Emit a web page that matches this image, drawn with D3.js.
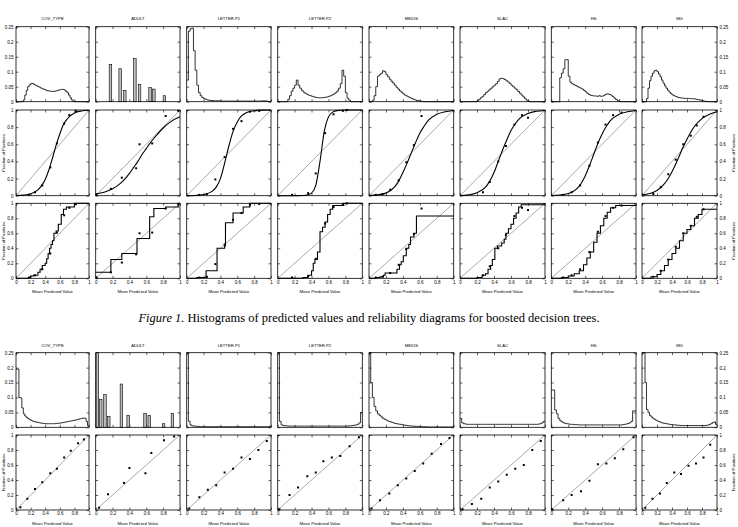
<!DOCTYPE html>
<html>
<head>
<meta charset="utf-8">
<script src="https://cdn.jsdelivr.net/npm/d3@7"></script>
<style>
  body { margin: 0; background: #fff; }
  text { font-family: "Liberation Sans", Arial, sans-serif; }
</style>
</head>
<body>
<svg id="fig" width="738" height="527"></svg>
<script>
const datasets = ["COV_TYPE", "ADULT", "LETTER.P1", "LETTER.P2", "MEDIS", "SLAC", "HS", "MG"];
const binWidth = 0.02;
const xTicks = [0, 0.2, 0.4, 0.6, 0.8, 1];
const histTicks = [0, 0.05, 0.1, 0.15, 0.2, 0.25];
const relTicks = [0, 0.2, 0.4, 0.6, 0.8, 1];

// histograms of raw boosted-tree predictions (50 bins of 0.02)
const histTopCov = [0,0,0,0,0,0.006,0.022,0.038,0.05,0.056,0.06,0.061,0.058,0.055,0.053,0.05,0.048,0.045,0.043,0.041,0.039,0.037,0.036,0.035,0.035,0.034,0.035,0.036,0.037,0.039,0.04,0.041,0.041,0.039,0.035,0.03,0.022,0.013,0.006,0.002,0,0,0,0,0,0,0,0,0,0];
const histTopP1 = [0.072,0.235,0.243,0.245,0.17,0.105,0.055,0.03,0.02,0.014,0.01,0.008,0.006,0.005,0.004,0.004,0.003,0.003,0.003,0.003,0.002,0.002,0.002,0.002,0.002,0.002,0.002,0.002,0.002,0.002,0.002,0.002,0.002,0.002,0.002,0.002,0.002,0.002,0.002,0.002,0.002,0.002,0.002,0.002,0.002,0.003,0.003,0.002,0.001,0];
const histTopP2 = [0,0,0,0,0,0,0.008,0.02,0.035,0.045,0.055,0.072,0.055,0.045,0.038,0.032,0.028,0.025,0.022,0.02,0.018,0.016,0.015,0.014,0.013,0.013,0.013,0.014,0.015,0.016,0.018,0.02,0.023,0.026,0.03,0.036,0.045,0.06,0.105,0.085,0.03,0.012,0.005,0,0,0,0,0,0,0];
const histTopMedis = [0,0,0.005,0.02,0.05,0.085,0.09,0.095,0.103,0.1,0.09,0.083,0.075,0.068,0.062,0.055,0.048,0.042,0.036,0.031,0.026,0.022,0.019,0.016,0.013,0.01,0.008,0.006,0.004,0.003,0.002,0.001,0,0,0,0,0,0,0,0,0,0,0,0,0,0,0,0,0,0];
const histTopSlac = [0,0,0,0,0,0,0,0,0,0,0.003,0.008,0.013,0.018,0.024,0.03,0.035,0.04,0.045,0.05,0.055,0.06,0.068,0.076,0.078,0.077,0.074,0.07,0.066,0.061,0.055,0.05,0.045,0.04,0.034,0.028,0.022,0.016,0.01,0.005,0.002,0,0,0,0,0,0,0,0,0];
const histTopHs = [0,0,0,0,0,0.08,0.095,0.11,0.14,0.14,0.085,0.065,0.06,0.057,0.054,0.051,0.048,0.045,0.042,0.038,0.033,0.028,0.024,0.021,0.02,0.019,0.019,0.018,0.02,0.018,0.019,0.022,0.025,0.026,0.024,0.022,0.017,0.012,0.007,0.003,0.001,0,0,0,0,0,0,0,0,0];
const histTopMg = [0,0,0,0.01,0.045,0.07,0.085,0.095,0.103,0.105,0.1,0.092,0.083,0.072,0.062,0.053,0.045,0.038,0.032,0.027,0.023,0.02,0.018,0.016,0.014,0.013,0.012,0.012,0.011,0.011,0.011,0.011,0.01,0.01,0.01,0.009,0.008,0.007,0.006,0.005,0.003,0.002,0.001,0,0,0,0,0,0,0];
// ADULT has only a few distinct scores: drawn as separate bars
const adultTopX = [0.175, 0.29, 0.345, 0.465, 0.52, 0.645, 0.69, 0.815];
const adultTopH = [0.124, 0.11, 0.037, 0.144, 0.058, 0.047, 0.042, 0.02];

// histograms after Platt calibration
const histBotCov = [0.195,0.195,0.1,0.098,0.065,0.045,0.038,0.033,0.029,0.026,0.023,0.021,0.019,0.018,0.017,0.016,0.015,0.014,0.013,0.013,0.012,0.012,0.012,0.012,0.012,0.012,0.012,0.013,0.013,0.014,0.014,0.015,0.016,0.017,0.018,0.019,0.02,0.021,0.022,0.023,0.024,0.025,0.026,0.028,0.029,0.03,0.031,0.03,0.02,0.005];
const histBotP1 = [0.6,0.02,0.008,0.005,0.004,0.004,0.003,0.003,0.002,0.002,0.002,0.002,0.002,0.002,0.002,0.002,0.002,0.002,0.002,0.002,0.002,0.002,0.002,0.002,0.002,0.002,0.002,0.002,0.002,0.002,0.002,0.002,0.002,0.002,0.002,0.002,0.002,0.002,0.002,0.002,0.002,0.002,0.002,0.002,0.002,0.002,0.002,0.002,0.002,0.003];
const histBotP2 = [0.3,0.02,0.008,0.006,0.005,0.005,0.004,0.004,0.004,0.004,0.004,0.004,0.004,0.004,0.004,0.004,0.004,0.004,0.004,0.004,0.004,0.004,0.004,0.004,0.004,0.004,0.004,0.004,0.004,0.004,0.004,0.004,0.004,0.004,0.004,0.004,0.004,0.004,0.004,0.004,0.004,0.004,0.005,0.005,0.006,0.007,0.008,0.01,0.015,0.05];
const histBotMedis = [0.4,0.15,0.1,0.07,0.055,0.045,0.04,0.035,0.03,0.027,0.024,0.021,0.019,0.017,0.015,0.013,0.012,0.011,0.01,0.009,0.008,0.007,0.006,0.005,0.005,0.004,0.004,0.003,0.003,0.003,0.002,0.002,0.002,0.002,0.001,0.001,0.001,0.001,0.001,0.001,0.001,0.001,0.001,0.001,0.001,0.001,0.001,0.001,0.001,0.001];
const histBotSlac = [0.03,0.015,0.012,0.011,0.01,0.01,0.01,0.01,0.01,0.01,0.01,0.01,0.01,0.01,0.01,0.01,0.01,0.01,0.01,0.01,0.01,0.01,0.01,0.01,0.01,0.01,0.01,0.01,0.01,0.01,0.01,0.01,0.01,0.01,0.01,0.01,0.01,0.01,0.01,0.01,0.01,0.01,0.01,0.01,0.01,0.01,0.011,0.012,0.015,0.02];
const histBotHs = [0.125,0.125,0.058,0.045,0.03,0.022,0.018,0.015,0.013,0.012,0.011,0.01,0.01,0.009,0.009,0.009,0.008,0.008,0.008,0.008,0.008,0.008,0.008,0.008,0.008,0.008,0.008,0.008,0.008,0.008,0.008,0.008,0.008,0.008,0.008,0.008,0.008,0.008,0.008,0.008,0.008,0.008,0.009,0.01,0.011,0.013,0.015,0.02,0.055,0.055];
const histBotMg = [0.3,0.3,0.15,0.06,0.05,0.04,0.035,0.03,0.027,0.024,0.021,0.019,0.017,0.015,0.014,0.013,0.012,0.011,0.01,0.009,0.009,0.008,0.008,0.007,0.007,0.006,0.006,0.006,0.006,0.006,0.006,0.006,0.006,0.006,0.006,0.006,0.006,0.006,0.006,0.006,0.006,0.006,0.006,0.007,0.008,0.01,0.013,0.016,0.018,0.01];
const adultBotX = [0.02, 0.06, 0.11, 0.155, 0.305, 0.385, 0.585, 0.635, 0.805, 0.91];
const adultBotH = [0.3, 0.094, 0.11, 0.037, 0.145, 0.04, 0.047, 0.04, 0.012, 0.047];

// reliability points of the boosted trees (same in both rows)
const ptsTopX = [
  [0.18,0.26,0.36,0.47,0.56,0.66,0.73,0.82],
  [0.01,0.18,0.31,0.48,0.52,0.67,0.83,0.98],
  [0.15,0.24,0.34,0.45,0.55,0.65,0.75,0.86],
  [0.17,0.36,0.45,0.56,0.66,0.77,0.82],
  [0.08,0.16,0.25,0.35,0.44,0.53,0.62],
  [0.27,0.35,0.45,0.54,0.64,0.73,0.80],
  [0.14,0.24,0.34,0.45,0.55,0.64,0.73,0.83],
  [0.15,0.25,0.35,0.45,0.55,0.65,0.73,0.82]
];
const ptsTopY = [
  [0.01,0.04,0.12,0.33,0.61,0.84,0.94,0.99],
  [0.01,0.08,0.21,0.32,0.60,0.61,0.93,0.99],
  [0.01,0.02,0.19,0.45,0.78,0.87,0.98,0.99],
  [0.01,0.03,0.26,0.73,0.95,0.99,1.0],
  [0.01,0.02,0.07,0.18,0.39,0.59,0.93],
  [0.04,0.16,0.40,0.58,0.83,0.94,0.91],
  [0.01,0.04,0.12,0.35,0.62,0.83,0.94,0.97],
  [0.02,0.10,0.25,0.42,0.60,0.70,0.82,0.92]
];

// fitted sigmoid, read at these x positions
const fitX = [0, 0.1, 0.2, 0.3, 0.35, 0.4, 0.45, 0.5, 0.55, 0.6, 0.65, 0.7, 0.8, 0.9, 1];
const fitY = [
  [0.002,0.007,0.022,0.068,0.117,0.19,0.30,0.44,0.59,0.72,0.83,0.895,0.965,0.989,0.997],
  [0.02,0.04,0.08,0.15,0.20,0.26,0.33,0.40,0.48,0.55,0.62,0.68,0.79,0.87,0.92],
  [0,0.003,0.013,0.05,0.10,0.20,0.38,0.58,0.75,0.86,0.93,0.965,0.99,0.998,1],
  [0,0,0.001,0.003,0.009,0.03,0.12,0.40,0.75,0.92,0.975,0.993,1,1,1],
  [0.003,0.01,0.03,0.10,0.17,0.27,0.38,0.50,0.62,0.73,0.81,0.88,0.95,0.98,0.995],
  [0.002,0.01,0.035,0.10,0.17,0.27,0.40,0.53,0.65,0.76,0.84,0.90,0.96,0.985,0.995],
  [0.002,0.008,0.025,0.08,0.14,0.23,0.35,0.48,0.61,0.72,0.81,0.88,0.95,0.98,0.995],
  [0.01,0.025,0.06,0.14,0.20,0.28,0.37,0.47,0.57,0.66,0.74,0.81,0.90,0.95,0.98]
];

// isotonic regression steps: level y starts at x
const stepX = [
  [0,0.17,0.2,0.24,0.3,0.33,0.36,0.4,0.42,0.44,0.46,0.48,0.5,0.52,0.55,0.58,0.62,0.65,0.69,0.8],
  [0,0.18,0.31,0.49,0.64,0.69,0.83,0.98],
  [0,0.12,0.23,0.36,0.45,0.46,0.55,0.67,0.75],
  [0,0.30,0.36,0.40,0.42,0.44,0.47,0.50,0.53,0.56,0.59,0.62,0.65,0.78],
  [0,0.08,0.13,0.17,0.19,0.33,0.36,0.38,0.405,0.44,0.47,0.49,0.53,0.56],
  [0,0.2,0.26,0.3,0.33,0.36,0.38,0.41,0.44,0.49,0.52,0.54,0.57,0.6,0.63,0.66,0.69,0.72],
  [0,0.12,0.2,0.27,0.33,0.38,0.42,0.46,0.5,0.54,0.58,0.62,0.66,0.7,0.76],
  [0,0.12,0.2,0.25,0.3,0.35,0.4,0.45,0.5,0.55,0.6,0.65,0.7,0.75,0.8]
];
const stepY = [
  [0,0.01,0.03,0.04,0.08,0.12,0.17,0.2,0.26,0.33,0.4,0.45,0.5,0.6,0.63,0.72,0.85,0.92,0.95,1.0],
  [0.08,0.25,0.33,0.53,0.82,0.93,0.95,1.0],
  [0,0.01,0.1,0.4,0.43,0.74,0.87,0.95,1.0],
  [0,0.01,0.04,0.1,0.2,0.25,0.35,0.62,0.68,0.75,0.85,0.92,0.97,1.0],
  [0,0.01,0.02,0.04,0.07,0.12,0.18,0.22,0.3,0.4,0.45,0.55,0.6,0.83],
  [0,0.01,0.04,0.06,0.12,0.17,0.25,0.4,0.43,0.47,0.52,0.6,0.66,0.72,0.8,0.87,0.95,0.98],
  [0,0.01,0.03,0.06,0.1,0.18,0.27,0.35,0.48,0.6,0.7,0.8,0.88,0.94,0.97],
  [0,0.02,0.05,0.1,0.17,0.25,0.33,0.4,0.5,0.6,0.65,0.7,0.8,0.85,0.92]
];

// reliability points after calibration
const ptsBotX = [
  [0.06,0.155,0.26,0.36,0.47,0.56,0.66,0.75,0.85,0.93],
  [0.04,0.146,0.336,0.40,0.59,0.66,0.81,0.93],
  [0.03,0.15,0.25,0.35,0.45,0.55,0.65,0.75,0.85,0.95],
  [0.02,0.14,0.24,0.35,0.45,0.54,0.64,0.74,0.85,0.96],
  [0.03,0.13,0.24,0.34,0.44,0.54,0.64,0.74,0.85,0.95],
  [0.03,0.14,0.25,0.35,0.45,0.55,0.65,0.75,0.85,0.95],
  [0.01,0.14,0.24,0.35,0.45,0.55,0.65,0.75,0.85,0.97],
  [0.044,0.14,0.24,0.33,0.43,0.52,0.62,0.72,0.82,0.91]
];
const ptsBotY = [
  [0.036,0.15,0.28,0.37,0.49,0.55,0.70,0.79,0.89,0.94],
  [0.03,0.21,0.36,0.56,0.49,0.76,0.93,0.98],
  [0.02,0.17,0.27,0.33,0.50,0.55,0.70,0.68,0.80,0.92],
  [0.01,0.20,0.30,0.45,0.50,0.65,0.70,0.72,0.85,0.97],
  [0.02,0.13,0.22,0.33,0.42,0.52,0.62,0.75,0.88,0.96],
  [0.01,0.08,0.15,0.30,0.38,0.47,0.55,0.60,0.80,0.92],
  [0.01,0.13,0.20,0.25,0.39,0.61,0.62,0.69,0.81,0.97],
  [0.03,0.15,0.22,0.36,0.50,0.48,0.59,0.62,0.70,0.87]
];

const histTop = [histTopCov, null, histTopP1, histTopP2, histTopMedis, histTopSlac, histTopHs, histTopMg];
const histBot = [histBotCov, null, histBotP1, histBotP2, histBotMedis, histBotSlac, histBotHs, histBotMg];

// layout
const colLeft  = [16, 95.7, 186.7, 277.7, 369, 460, 551.3, 642];
const colRight = [89, 180, 271, 362.3, 453.7, 545, 636, 717];
const topHist = [26.7, 101.7], topFit = [110, 195.7], topIso = [203.3, 278.3];
const botHist = [352.7, 427.3], botRel = [435, 510];
const tickLen = 2.5;

const svg = d3.select("#fig");

function styleAxis(sel) {
  sel.attr("font-size", 4.5).attr("font-family", null);
  sel.select(".domain").remove();
  sel.selectAll("line").attr("stroke-width", 0.6);
}

function makePanel(c, rows, yDomain, yTicks, xLabels) {
  const x = d3.scaleLinear().domain([0, 1]).range([colLeft[c], colRight[c]]);
  const y = d3.scaleLinear().domain(yDomain).range([rows[1], rows[0]]).clamp(true);
  const g = svg.append("g");
  const fmt = d => String(d);

  g.append("g").attr("transform", `translate(0,${rows[1]})`)
    .call(d3.axisBottom(x).tickValues(xTicks).tickSizeInner(-tickLen).tickSizeOuter(0)
      .tickPadding(2.2).tickFormat(xLabels ? fmt : ""))
    .call(styleAxis);
  g.append("g").attr("transform", `translate(0,${rows[0]})`)
    .call(d3.axisTop(x).tickValues(xTicks).tickSizeInner(-tickLen).tickSizeOuter(0).tickFormat(""))
    .call(styleAxis);
  g.append("g").attr("transform", `translate(${colLeft[c]},0)`)
    .call(d3.axisLeft(y).tickValues(yTicks).tickSizeInner(-tickLen).tickSizeOuter(0)
      .tickPadding(2.5).tickFormat(c === 0 ? fmt : ""))
    .call(styleAxis);
  g.append("g").attr("transform", `translate(${colRight[c]},0)`)
    .call(d3.axisRight(y).tickValues(yTicks).tickSizeInner(-tickLen).tickSizeOuter(0)
      .tickPadding(2.5).tickFormat(c === 7 ? fmt : ""))
    .call(styleAxis);

  const plot = g.append("g");
  g.append("rect")
    .attr("x", colLeft[c]).attr("y", rows[0])
    .attr("width", colRight[c] - colLeft[c]).attr("height", rows[1] - rows[0])
    .attr("fill", "none").attr("stroke", "#000").attr("stroke-width", 0.8);
  return {x, y, plot};
}

function drawHist(p, bins) {
  const pts = bins.map((v, i) => [i * binWidth, v]);
  pts.push([1, bins[bins.length - 1]]);
  p.plot.append("path")
    .attr("d", d3.line().x(d => p.x(d[0])).y(d => p.y(d[1])).curve(d3.curveStepAfter)(pts))
    .attr("fill", "none").attr("stroke", "#000").attr("stroke-width", 0.8);
}

function drawBars(p, xs, hs) {
  p.plot.selectAll("rect.bar")
    .data(xs.map((d, i) => [d, hs[i]]))
    .join("rect")
    .attr("class", "bar")
    .attr("x", d => p.x(d[0] - 0.015))
    .attr("width", d => p.x(d[0] + 0.015) - p.x(d[0] - 0.015))
    .attr("y", d => p.y(d[1]))
    .attr("height", d => p.y(0) - p.y(d[1]))
    .attr("fill", "#bdbdbd").attr("stroke", "#000").attr("stroke-width", 0.6);
}

function drawDiag(p) {
  p.plot.append("line")
    .attr("x1", p.x(0)).attr("y1", p.y(0)).attr("x2", p.x(1)).attr("y2", p.y(1))
    .attr("stroke", "#555").attr("stroke-width", 0.5);
}

function drawCurve(p, xs, ys, curve) {
  const pts = xs.map((d, i) => [d, ys[i]]);
  p.plot.append("path")
    .attr("d", d3.line().x(d => p.x(d[0])).y(d => p.y(d[1])).curve(curve)(pts))
    .attr("fill", "none").attr("stroke", "#000").attr("stroke-width", 1.1);
}

function drawPoints(p, xs, ys) {
  p.plot.selectAll("rect.pt")
    .data(xs.map((d, i) => [d, ys[i]]))
    .join("rect")
    .attr("class", "pt")
    .attr("x", d => p.x(d[0]) - 1).attr("y", d => p.y(d[1]) - 1)
    .attr("width", 2).attr("height", 2).attr("fill", "#000");
}

function title(c, yBase) {
  svg.append("text")
    .attr("x", (colLeft[c] + colRight[c]) / 2).attr("y", yBase)
    .attr("text-anchor", "middle").attr("font-size", 4.2).text(datasets[c]);
}

function xTitle(c, rows) {
  svg.append("text")
    .attr("x", (colLeft[c] + colRight[c]) / 2).attr("y", rows[1] + 15)
    .attr("text-anchor", "middle").attr("font-size", 4.2).text("Mean Predicted Value");
}

function yTitles(rows) {
  const cy = (rows[0] + rows[1]) / 2;
  [4.5, 735].forEach(cx => {
    svg.append("text")
      .attr("transform", `translate(${cx},${cy}) rotate(-90)`)
      .attr("text-anchor", "middle").attr("font-size", 4.2).text("Fraction of Positives");
  });
}

// Figure 1: boosted decision trees
datasets.forEach((name, c) => {
  title(c, 20);
  const h = makePanel(c, topHist, [0, 0.25], histTicks, false);
  if (histTop[c]) drawHist(h, histTop[c]); else drawBars(h, adultTopX, adultTopH);

  const f = makePanel(c, topFit, [0, 1], relTicks, false);
  drawDiag(f);
  drawCurve(f, fitX, fitY[c], d3.curveMonotoneX);
  drawPoints(f, ptsTopX[c], ptsTopY[c]);

  const s = makePanel(c, topIso, [0, 1], relTicks, true);
  drawDiag(s);
  const sy = stepY[c];
  drawCurve(s, stepX[c].concat([1]), sy.concat([sy[sy.length - 1]]), d3.curveStepAfter);
  drawPoints(s, ptsTopX[c], ptsTopY[c]);
  xTitle(c, topIso);
});
yTitles(topFit);
yTitles(topIso);

const cap = svg.append("text")
  .attr("x", 369).attr("y", 322).attr("text-anchor", "middle")
  .attr("font-size", 12.5).style("font-family", "'Liberation Serif', 'Times New Roman', serif");
cap.append("tspan").attr("font-style", "italic").text("Figure 1.");
cap.append("tspan").text(" Histograms of predicted values and reliability diagrams for boosted decision trees.");

// Figure 2: after calibration
datasets.forEach((name, c) => {
  title(c, 346.7);
  const h = makePanel(c, botHist, [0, 0.25], histTicks, false);
  if (histBot[c]) drawHist(h, histBot[c]); else drawBars(h, adultBotX, adultBotH);

  const r = makePanel(c, botRel, [0, 1], relTicks, true);
  drawDiag(r);
  drawPoints(r, ptsBotX[c], ptsBotY[c]);
  xTitle(c, botRel);
});
yTitles(botRel);
</script>
</body>
</html>
